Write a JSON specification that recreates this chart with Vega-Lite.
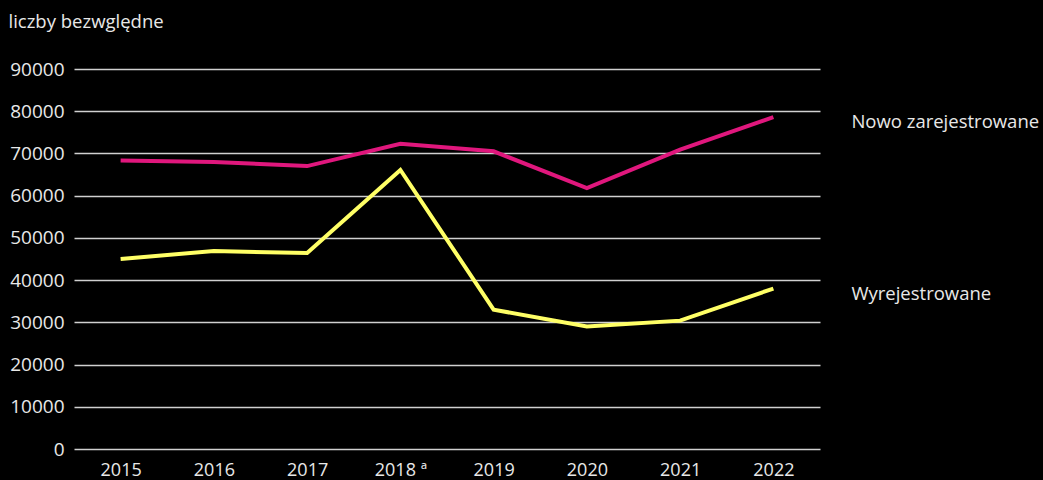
{
  "$schema": "https://vega.github.io/schema/vega-lite/v6.json",
  "width": 746,
  "height": 380,
  "autosize": {"type": "none"},
  "padding": {"left": 74, "top": 69, "right": 223, "bottom": 31},
  "background": "#000000",
  "config": {"view": {"stroke": null}, "font": "Open Sans"},
  "data": {
    "values": [
      {"rok": "2015", "seria": "Nowo zarejestrowane", "wartosc": 68300},
      {"rok": "2016", "seria": "Nowo zarejestrowane", "wartosc": 68000},
      {"rok": "2017", "seria": "Nowo zarejestrowane", "wartosc": 67000},
      {"rok": "2018", "seria": "Nowo zarejestrowane", "wartosc": 72300},
      {"rok": "2019", "seria": "Nowo zarejestrowane", "wartosc": 70500},
      {"rok": "2020", "seria": "Nowo zarejestrowane", "wartosc": 61800},
      {"rok": "2021", "seria": "Nowo zarejestrowane", "wartosc": 70900},
      {"rok": "2022", "seria": "Nowo zarejestrowane", "wartosc": 78600},
      {"rok": "2015", "seria": "Wyrejestrowane", "wartosc": 45000},
      {"rok": "2016", "seria": "Wyrejestrowane", "wartosc": 46900},
      {"rok": "2017", "seria": "Wyrejestrowane", "wartosc": 46400},
      {"rok": "2018", "seria": "Wyrejestrowane", "wartosc": 66100},
      {"rok": "2019", "seria": "Wyrejestrowane", "wartosc": 33000},
      {"rok": "2020", "seria": "Wyrejestrowane", "wartosc": 29000},
      {"rok": "2021", "seria": "Wyrejestrowane", "wartosc": 30400},
      {"rok": "2022", "seria": "Wyrejestrowane", "wartosc": 38000}
    ]
  },
  "encoding": {
    "x": {
      "field": "rok",
      "type": "ordinal",
      "scale": {"type": "point", "padding": 0.5},
      "axis": {
        "title": null,
        "labelAngle": 0,
        "domain": false,
        "ticks": false,
        "grid": false,
        "labelFontSize": 18,
        "labelColor": "#e8e8e8",
        "labelPadding": 12,
        "labelExpr": "datum.value == '2018' ? '2018 ª' : datum.value"
      }
    },
    "y": {
      "field": "wartosc",
      "type": "quantitative",
      "scale": {"domain": [0, 90000], "nice": false},
      "axis": {
        "title": "liczby bezwględne",
        "titleAngle": 0,
        "titleAlign": "left",
        "titleBaseline": "middle",
        "titleX": -66,
        "titleY": -48,
        "titleFontSize": 18.5,
        "titleFontWeight": "normal",
        "titleColor": "#e8e8e8",
        "values": [0, 10000, 20000, 30000, 40000, 50000, 60000, 70000, 80000, 90000],
        "format": "d",
        "domain": false,
        "ticks": false,
        "grid": true,
        "gridColor": "#d0d0d0",
        "gridWidth": 1.5,
        "labelFontSize": 19,
        "labelColor": "#e8e8e8",
        "labelPadding": 10
      }
    }
  },
  "layer": [
    {
      "mark": {"type": "line", "strokeWidth": 4},
      "encoding": {
        "color": {
          "field": "seria",
          "type": "nominal",
          "scale": {"domain": ["Nowo zarejestrowane", "Wyrejestrowane"], "range": ["#E0177D", "#FFFF66"]},
          "legend": null
        }
      }
    },
    {
      "transform": [{"filter": "datum.rok == '2022'"}],
      "mark": {"type": "text", "align": "left", "baseline": "middle", "dx": 78, "dy": 5, "fontSize": 18.5, "color": "#e8e8e8"},
      "encoding": {"text": {"field": "seria"}}
    }
  ]
}
